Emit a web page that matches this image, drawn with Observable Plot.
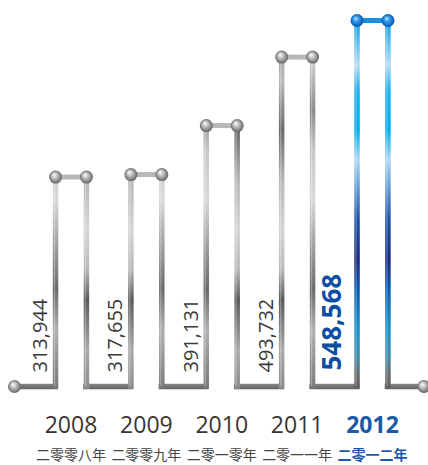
<!DOCTYPE html>
<html><head><meta charset="utf-8">
<script src="https://cdn.jsdelivr.net/npm/d3@7"></script>
<script src="https://cdn.jsdelivr.net/npm/@observablehq/plot@0.6"></script>
<style>body{margin:0;background:#fff}#chart svg{display:block}</style>
</head><body><div id="chart"></div>
<script>
const years = ["2008", "2009", "2010", "2011", "2012"];
const yearsZh = ["二零零八年", "二零零九年", "二零一零年", "二零一一年", "二零一二年"];
const values = [313944, 317655, 391131, 493732, 548568];
const valueLabels = ["313,944", "317,655", "391,131", "493,732", "548,568"];
const highlightYear = "2012";

const half = 0.205;          // half of the gap between the two pipes of a bar (slot units)
const startX = -0.75, endX = 4.68;

const bars = years.map((year, i) => ({year, i, value: values[i], label: valueLabels[i], zh: yearsZh[i], hi: year === highlightYear}));
const pipes = bars.flatMap(d => [{...d, x: d.i - half, side: 0}, {...d, x: d.i + half, side: 1}]);
const bottoms = [];
let prev = startX;
for (const d of bars) { bottoms.push({x1: prev, x2: d.i - half}); prev = d.i + half; }
bottoms.push({x1: prev, x2: endX});
const ends = [{x: startX}, {x: endX}];
const normal = bars.filter(d => !d.hi), hiBars = bars.filter(d => d.hi);

function defs() {
  const el = d3.create("svg:defs");
  const lin = (id, stops) => {
    const g = el.append("linearGradient").attr("id", id).attr("gradientUnits", "userSpaceOnUse")
      .attr("x1", 0).attr("x2", 0).attr("y1", 0).attr("y2", 465);
    for (const [y, c] of stops) g.append("stop").attr("offset", y / 465).attr("stop-color", c);
  };
  lin("grayA", [[20,"#a8a8a8"],[60,"#d0d0d0"],[110,"#8a8a8a"],[150,"#c8c8c8"],[200,"#d8d8d8"],[250,"#9a9a9a"],[290,"#6a6a6a"],[330,"#b0b0b0"],[370,"#888"],[390,"#777"]]);
  lin("grayB", [[20,"#888"],[80,"#bbb"],[130,"#6a6a6a"],[180,"#b8b8b8"],[230,"#d5d5d5"],[270,"#b8b8b8"],[300,"#5a5a5a"],[350,"#aaa"],[390,"#8a8a8a"]]);
  lin("blue", [[20,"#0aa0e6"],[50,"#7cc8f2"],[65,"#b5ddf5"],[90,"#22b0ee"],[130,"#00aeef"],[160,"#b0d9f3"],[190,"#5d96d0"],[220,"#1f54a5"],[260,"#1b2a80"],[290,"#0b5fb0"],[330,"#1a93c8"],[355,"#3f8fae"],[375,"#6a6a6a"],[390,"#5e5e5e"]]);
  const h = el.append("linearGradient").attr("id", "bottomGray").attr("gradientUnits", "userSpaceOnUse")
    .attr("x1", 0).attr("x2", 0).attr("y1", 381).attr("y2", 391);
  for (const [o, c] of [[0,"#9a9a9a"],[0.45,"#777"],[1,"#555"]]) h.append("stop").attr("offset", o).attr("stop-color", c);
  const rad = (id, stops) => {
    const g = el.append("radialGradient").attr("id", id).attr("cx", "50%").attr("cy", "50%").attr("r", "55%").attr("fx", "38%").attr("fy", "32%");
    for (const [o, c] of stops) g.append("stop").attr("offset", o).attr("stop-color", c);
  };
  rad("ballGray", [[0,"#ffffff"],[0.35,"#c8c8c8"],[0.8,"#7a7a7a"],[1,"#5a5a5a"]]);
  rad("ballBlue", [[0,"#bfe6ff"],[0.35,"#3aa0ec"],[0.8,"#0a62c0"],[1,"#084f9c"]]);
  return el.node();
}

const pipeStroke = d => d.hi ? "url(#blue)" : ((d.i + d.side) % 2 ? "url(#grayB)" : "url(#grayA)");

const chart = Plot.plot({
  width: 428, height: 465,
  margin: 0,
  style: {background: "#fff", overflow: "visible"},
  x: {domain: [0, 4], range: [70.5, 372], axis: null},
  y: {domain: [0, d3.max(values)], range: [386, 20], axis: null},
  marks: [
    defs,
    Plot.ruleY(bottoms, {x1: "x1", x2: "x2", y: 0, stroke: "url(#bottomGray)", strokeWidth: 5.5, strokeLinecap: "square"}),
    Plot.ruleY(bars, {x1: d => d.i - half, x2: d => d.i + half, y: "value", stroke: d => d.hi ? "#1b90dd" : "#b8b8b8", strokeWidth: 5}),
    Plot.ruleX(pipes, {x: "x", y1: 0, y2: "value", stroke: pipeStroke, strokeWidth: 5.5, strokeLinecap: "square"}),
    Plot.ruleX(pipes, {x: "x", y1: 0, y2: "value", stroke: "#fff", strokeOpacity: 0.3, strokeWidth: 1.3, dx: -1}),
    Plot.dot(ends, {x: "x", y: 0, r: 6.5, fill: "url(#ballGray)"}),
    Plot.dot(pipes, {x: "x", y: "value", r: 6.5, fill: d => d.hi ? "url(#ballBlue)" : "url(#ballGray)"}),
    Plot.text(normal, {x: d => d.i - half, y: 0, text: "label", rotate: -90, textAnchor: "start",
      dx: -15, dy: -14, fontSize: 20, fontFamily: "Open Sans", fill: "#3a3a3a"}),
    Plot.text(hiBars, {x: d => d.i - half, y: 0, text: "label", rotate: -90, textAnchor: "start",
      dx: -24, dy: -16, fontSize: 26, fontWeight: "bold", fontFamily: "Open Sans", fill: "#0b4ea2"}),
    Plot.text(normal, {x: "i", text: "year", frameAnchor: "bottom", lineAnchor: "bottom", dy: -33,
      fontSize: 23, fontFamily: "Open Sans", fill: "#3a3434"}),
    Plot.text(hiBars, {x: "i", text: "year", frameAnchor: "bottom", lineAnchor: "bottom", dy: -33,
      fontSize: 23, fontWeight: "bold", fontFamily: "Open Sans", fill: "#1a5aa8"}),
    Plot.text(normal, {x: "i", text: "zh", frameAnchor: "bottom", lineAnchor: "bottom", dy: -6,
      fontSize: 14, fontFamily: "Noto Sans CJK SC", fill: "#444"}),
    Plot.text(hiBars, {x: "i", text: "zh", frameAnchor: "bottom", lineAnchor: "bottom", dy: -6,
      fontSize: 14, fontWeight: "bold", fontFamily: "Noto Sans CJK SC", fill: "#1a5aa8"})
  ]
});
document.getElementById("chart").append(chart);
</script>
</body></html>
